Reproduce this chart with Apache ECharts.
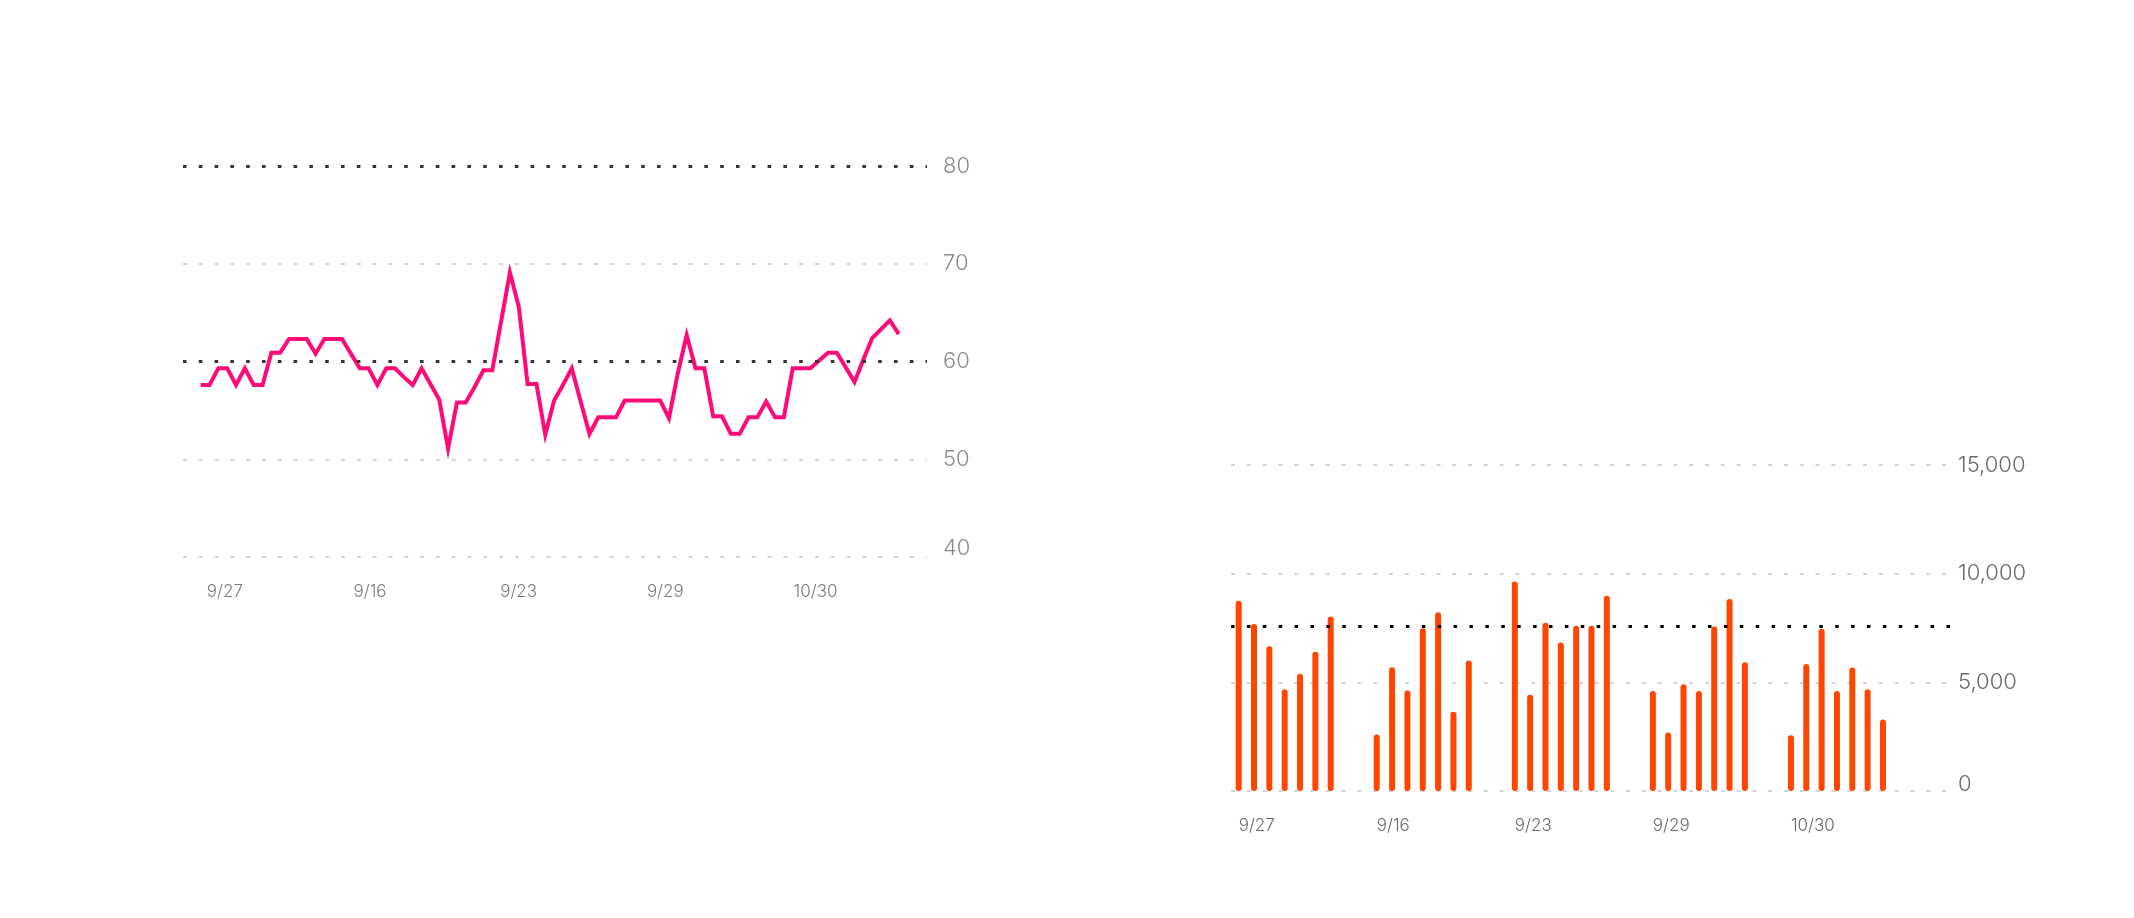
<!DOCTYPE html>
<html>
<head>
<meta charset="utf-8">
<script src="https://cdn.jsdelivr.net/npm/echarts@6/dist/echarts.min.js"></script>
<style>
html,body{margin:0;padding:0;background:#ffffff;}
#chart{width:2134px;height:918px;}
</style>
</head>
<body>
<div id="chart"></div>
<script>
// ---- Left chart: line ----
const lineValues = [
  57.6, 57.6, 59.3, 59.3, 57.6, 59.3, 57.6, 57.6, 60.9, 60.9,
  62.3, 62.3, 62.3, 60.8, 62.3, 62.3, 62.3, 60.8, 59.3, 59.3,
  57.6, 59.3, 59.3, 58.4, 57.6, 59.3, 57.7, 56.1, 51.1, 55.8,
  55.8, 57.4, 59.1, 59.1, 64.1, 69.1, 65.6, 57.7, 57.7, 52.5,
  56.0, 57.6, 59.3, 55.9, 52.6, 54.3, 54.3, 54.3, 56.0, 56.0,
  56.0, 56.0, 56.0, 54.2, 58.8, 62.7, 59.3, 59.3, 54.4, 54.4,
  52.6, 52.6, 54.3, 54.3, 55.9, 54.3, 54.3, 59.3, 59.3, 59.3,
  60.1, 60.9, 60.9, 59.4, 57.9, 60.2, 62.4, 63.3, 64.2, 62.8
];
const lineTickAt = [0.7, 17.3, 33.9, 50.5, 67.1];
const lineTickLabels = ['9/27', '9/16', '9/23', '9/29', '10/30'];
const lineRefLines = [60, 80];

// ---- Right chart: bars ----
const barGroupLabels = ['9/27', '9/16', '9/23', '9/29', '10/30'];
const barGroup1 = [8750, 7680, 6660, 4680, 5400, 6410, 8030];
const barGroup2 = [2600, 5690, 4620, 7490, 8230, 3650, 6000];
const barGroup3 = [9640, 4430, 7740, 6830, 7600, 7600, 8980];
const barGroup4 = [4600, 2690, 4910, 4600, 7570, 8840, 5920];
const barGroup5 = [2570, 5840, 7460, 4600, 5680, 4680, 3290];
const barRefLine = 7600;

// build category slots: 7 days per group, then 2 empty slots
const barGroups = [barGroup1, barGroup2, barGroup3, barGroup4, barGroup5];
const barCats = [];
const barData = [];
barGroups.forEach(function (g, gi) {
  g.forEach(function (v, k) {
    barCats.push(k === 0 ? barGroupLabels[gi] : '');
    barData.push(v);
  });
  barCats.push(''); barData.push(null);
  barCats.push(''); barData.push(null);
});
barCats.push(''); barData.push(null);
barCats.push(''); barData.push(null);

const FONT = 'Inter';
const gridLine = { show: true, lineStyle: { color: '#d4d4d4', width: 2, type: [4, 11.8] } };

const chart = echarts.init(document.getElementById('chart'), null, { renderer: 'canvas' });
chart.setOption({
  backgroundColor: '#ffffff',
  animation: false,
  grid: [
    { left: 183, right: 1207, top: 166, bottom: 361, containLabel: false },
    { left: 1231, right: 182, top: 465, bottom: 127, containLabel: false }
  ],
  xAxis: [
    {
      gridIndex: 0, type: 'value', min: -2, max: 82.2,
      axisLine: { show: false }, axisTick: { show: false }, splitLine: { show: false },
      axisLabel: {
        customValues: lineTickAt,
        formatter: function (v) {
          const i = lineTickAt.indexOf(v);
          return i >= 0 ? lineTickLabels[i] : '';
        },
        align: 'left', margin: 26, color: '#7a7a7a', fontSize: 17, fontFamily: FONT, fontWeight: 300
      }
    },
    {
      gridIndex: 1, type: 'category', data: barCats, boundaryGap: true,
      axisLine: { show: false }, axisTick: { show: false }, splitLine: { show: false },
      axisLabel: { interval: 0, align: 'left', margin: 26, color: '#6a6a6a', fontSize: 17, fontFamily: FONT, fontWeight: 300 }
    }
  ],
  yAxis: [
    {
      gridIndex: 0, type: 'value', position: 'right', min: 40, max: 80, interval: 10,
      axisLine: { show: false }, axisTick: { show: false },
      splitLine: gridLine,
      axisLabel: { margin: 16, color: '#8a8a8a', fontSize: 22, lineHeight: 18, fontFamily: FONT, fontWeight: 300, verticalAlignMinLabel: 'bottom' }
    },
    {
      gridIndex: 1, type: 'value', position: 'right', min: 0, max: 15000, interval: 5000,
      axisLine: { show: false }, axisTick: { show: false },
      splitLine: gridLine,
      axisLabel: {
        margin: 6, color: '#6a6a6a', fontSize: 22, lineHeight: 14, fontFamily: FONT, fontWeight: 300, verticalAlignMinLabel: 'bottom',
        formatter: function (v) { return v.toLocaleString('en-US'); }
      }
    }
  ],
  series: [
    {
      type: 'line', xAxisIndex: 0, yAxisIndex: 0,
      data: lineValues.map(function (v, i) { return [i, v]; }),
      symbol: 'none', smooth: false,
      lineStyle: { color: '#ff0a78', width: 4, join: 'miter' },
      itemStyle: { color: '#ff0a78' },
      markLine: {
        silent: true, symbol: 'none', label: { show: false },
        lineStyle: { color: '#333333', width: 3, type: [3.5, 12.3] },
        data: lineRefLines.map(function (v) { return { yAxis: v }; })
      },
      z: 3
    },
    {
      type: 'bar', xAxisIndex: 1, yAxisIndex: 1,
      data: barData, barWidth: 6,
      itemStyle: { color: '#ff4500', borderRadius: 3 },
      markLine: {
        silent: true, symbol: 'none', label: { show: false },
        lineStyle: { color: '#000000', width: 3, type: [3.5, 12.4] },
        data: [{ yAxis: barRefLine }]
      },
      z: 3
    }
  ]
});
</script>
</body>
</html>
